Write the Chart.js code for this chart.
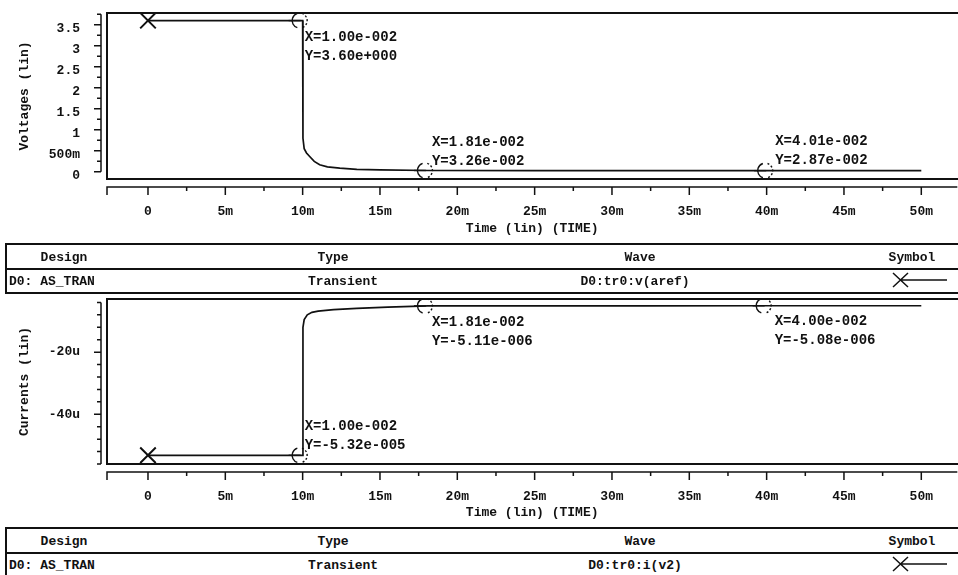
<!DOCTYPE html>
<html>
<head>
<meta charset="utf-8">
<script src="https://cdn.jsdelivr.net/npm/chart.js@4.4.1/dist/chart.umd.min.js"></script>
<style>
html, body { margin: 0; padding: 0; background: #fff; }
body { width: 958px; height: 575px; position: relative; overflow: hidden;
       font: bold 13px "Liberation Mono", "DejaVu Sans Mono", monospace; color: #111; }
canvas { position: absolute; left: 0; }
.legend { position: absolute; left: 5px; width: 980px; height: 51px; box-sizing: border-box;
          border: 2px solid #111; border-right: none; }
.legend .hdr { position: absolute; left: 0; right: 0; top: 0; height: 23px; border-bottom: 2px solid #111; }
.legend span { position: absolute; white-space: pre; line-height: 16px; }
.legend .c { transform: translateX(-50%); }
.legend svg { position: absolute; }
</style>
</head>
<body>
<canvas id="voltChart" width="958" height="240" style="top:0"></canvas>
<canvas id="currChart" width="958" height="235" style="top:290px"></canvas>

<script>
// transient run, time in seconds
const timeV = [0, 0.01, 0.01002, 0.0101, 0.01025, 0.01047, 0.01075, 0.0111, 0.0116, 0.0124, 0.0135, 0.015, 0.0181, 0.025, 0.032, 0.0401, 0.05];
const vAref = [3.6, 3.6, 0.8, 0.55, 0.45, 0.36, 0.25, 0.17, 0.12, 0.09, 0.06, 0.045, 0.0326, 0.031, 0.030, 0.0287, 0.028];

const timeI = [0, 0.01, 0.01002, 0.0101, 0.0103, 0.0106, 0.011, 0.012, 0.0135, 0.0155, 0.0181, 0.025, 0.032, 0.04, 0.05];
const iV2 = [-53.2e-6, -53.2e-6, -12e-6, -9.5e-6, -8e-6, -7.2e-6, -6.8e-6, -6.3e-6, -5.9e-6, -5.5e-6, -5.11e-6, -5.1e-6, -5.09e-6, -5.08e-6, -5.07e-6];

// cursor readouts
const vCursorX = [0.01, 0.0181, 0.0401];
const vCursorY = [3.6, 0.0326, 0.0287];
const iCursorX = [0.01, 0.0181, 0.04];
const iCursorY = [-5.32e-5, -5.11e-6, -5.08e-6];

// axis ticks
const xTickValues = [0, 0.005, 0.01, 0.015, 0.02, 0.025, 0.03, 0.035, 0.04, 0.045, 0.05];
const xTickLabels = ['0', '5m', '10m', '15m', '20m', '25m', '30m', '35m', '40m', '45m', '50m'];
const vTickValues = [0, 0.5, 1, 1.5, 2, 2.5, 3, 3.5];
const vTickLabels = ['0', '500m', '1', '1.5', '2', '2.5', '3', '3.5'];
const iTickValues = [-40e-6, -20e-6];
const iTickLabels = ['-40u', '-20u'];

// legend table
const legendHeaders = ['Design', 'Type', 'Wave', 'Symbol'];
const designName = 'D0: AS_TRAN';
const analysisType = 'Transient';
const waveNames = ['D0:tr0:v(aref)', 'D0:tr0:i(v2)'];

const FONT = '"Liberation Mono", "DejaVu Sans Mono", monospace';
Chart.defaults.font.family = FONT;
Chart.defaults.font.size = 13;
Chart.defaults.font.weight = 'bold';
Chart.defaults.color = '#111';

function range(a, b, step) {
    let out = [];
    for (let i = 0; a + i * step <= b + step * 1e-6; i++) out.push(a + i * step);
    return out;
}

function sci(v) {
    const parts = v.toExponential(2).split('e');
    const n = parseInt(parts[1], 10);
    return parts[0] + 'e' + (n < 0 ? '-' : '+') + String(Math.abs(n)).padStart(3, '0');
}

function drawCursor(ctx, x, y) {
    ctx.save();
    ctx.strokeStyle = '#111';
    ctx.lineWidth = 1.4;
    ctx.beginPath();
    ctx.arc(x, y, 7.5, Math.PI * 0.6, Math.PI * 1.4);
    ctx.stroke();
    ctx.setLineDash([2, 2]);
    ctx.beginPath();
    ctx.arc(x, y, 7.5, -Math.PI * 0.4, Math.PI * 0.4);
    ctx.stroke();
    ctx.setLineDash([]);
    ctx.beginPath();
    ctx.moveTo(x - 11, y);
    ctx.lineTo(x + 1, y);
    ctx.stroke();
    ctx.restore();
}

// frame, tick strips and cursor labels
const framePlugin = {
    id: 'frame',
    afterDatasetsDraw(chart, args, opts) {
        const { ctx, chartArea: a, scales: { x, y } } = chart;
        ctx.save();
        ctx.strokeStyle = '#111';
        ctx.lineWidth = 2;
        ctx.strokeRect(a.left, a.top, a.right - a.left + 10, a.bottom - a.top);

        // x tick strip
        ctx.lineWidth = 1.5;
        const sy = a.bottom + 8;
        ctx.beginPath();
        ctx.moveTo(a.left, sy + 8);
        ctx.lineTo(a.left, sy);
        ctx.lineTo(a.right, sy);
        range(0, 0.05, 0.0025).forEach((v, i) => {
            const px = x.getPixelForValue(v);
            ctx.moveTo(px, sy);
            ctx.lineTo(px, sy + (i % 2 ? 4 : 8));
        });
        ctx.stroke();

        // y tick strip
        const sx = a.left - 6;
        const minor = opts.yMinor;
        ctx.beginPath();
        ctx.moveTo(sx, y.getPixelForValue(minor[0]));
        ctx.lineTo(sx, y.getPixelForValue(minor[minor.length - 1]));
        minor.forEach((v, i) => {
            const py = y.getPixelForValue(v);
            const len = (i % opts.yMajorEvery === opts.yMajorPhase) ? 7 : 4;
            ctx.moveTo(sx, py);
            ctx.lineTo(sx - len, py);
        });
        ctx.stroke();

        // cursors
        ctx.font = 'bold 14px ' + FONT;
        ctx.fillStyle = '#111';
        ctx.textAlign = 'left';
        ctx.textBaseline = 'middle';
        opts.cursorX.forEach((cx, i) => {
            const px = x.getPixelForValue(cx);
            const py = y.getPixelForValue(opts.cursorY[i]);
            drawCursor(ctx, px - 3, py);
            const [dx, dy] = opts.place[i];
            ctx.fillText('X=' + sci(cx), px + dx, py + dy);
            ctx.fillText('Y=' + sci(opts.cursorY[i]), px + dx, py + dy + 19);
        });
        ctx.restore();
    }
};

function makeChart(id, cfg) {
    const points = cfg.t.map((t, i) => ({ x: t, y: cfg.v[i] }));
    return new Chart(document.getElementById(id), {
        type: 'line',
        data: {
            datasets: [{
                data: points,
                borderColor: '#111',
                borderWidth: 1.7,
                tension: 0,
                pointStyle: 'crossRot',
                pointRadius: c => c.dataIndex === 0 ? 11 : 0,
                pointBorderWidth: 2,
                pointBorderColor: '#111',
                pointHoverRadius: 0
            }]
        },
        options: {
            responsive: false,
            animation: false,
            events: [],
            layout: { autoPadding: false, padding: { top: cfg.padTop, right: 0, left: 0, bottom: 0 } },
            plugins: {
                legend: { display: false },
                tooltip: { enabled: false },
                frame: cfg.frame
            },
            scales: {
                x: {
                    type: 'linear',
                    min: -0.00265,
                    max: 0.05233,
                    grid: { display: false, drawTicks: false },
                    border: { display: false },
                    afterBuildTicks: s => { s.ticks = xTickValues.map(v => ({ value: v })); },
                    afterFit: s => { s.height = cfg.xAxisH; },
                    ticks: {
                        padding: 25,
                        autoSkip: false,
                        maxRotation: 0,
                        callback: (v, i) => xTickLabels[i]
                    },
                    title: { display: true, text: 'Time (lin) (TIME)', padding: { top: 0, bottom: cfg.titlePad } }
                },
                y: {
                    type: 'linear',
                    min: cfg.yMin,
                    max: cfg.yMax,
                    grid: { display: false, drawTicks: false },
                    border: { display: false },
                    afterBuildTicks: s => { s.ticks = cfg.yTicks.map(v => ({ value: v })); },
                    afterFit: s => {
                        s.width = 107;
                        s.paddingTop = 0;
                        s.paddingBottom = 0;
                    },
                    ticks: {
                        padding: 27,
                        autoSkip: false,
                        labelOffset: cfg.labelOffset,
                        callback: (v, i) => cfg.yLabels[i]
                    },
                    title: { display: true, text: cfg.yTitle, padding: { top: 17, bottom: 0 } }
                }
            }
        },
        plugins: [framePlugin]
    });
}

makeChart('voltChart', {
    t: timeV, v: vAref,
    padTop: 13, xAxisH: 61, titlePad: 3,
    yMin: -0.17, yMax: 3.78,
    yTicks: vTickValues, yLabels: vTickLabels, labelOffset: 4,
    yTitle: 'Voltages (lin)',
    frame: {
        yMinor: range(0, 3.75, 0.25), yMajorEvery: 2, yMajorPhase: 0,
        cursorX: vCursorX, cursorY: vCursorY,
        place: [[2, 17], [4, -28], [7, -29]]
    }
});

makeChart('currChart', {
    t: timeI, v: iV2,
    padTop: 9, xAxisH: 61, titlePad: 4,
    yMin: -56e-6, yMax: -2.9e-6,
    yTicks: iTickValues, yLabels: iTickLabels, labelOffset: 0,
    yTitle: 'Currents (lin)',
    frame: {
        yMinor: range(-56e-6, -4e-6, 4e-6), yMajorEvery: 5, yMajorPhase: 4,
        cursorX: iCursorX, cursorY: iCursorY,
        place: [[2, -29], [4, 17], [8, 16]]
    }
});

// legend tables under each plot
function buildLegend(top, wave) {
    const box = document.createElement('div');
    box.className = 'legend';
    box.style.top = top + 'px';
    const hdr = document.createElement('div');
    hdr.className = 'hdr';
    box.appendChild(hdr);
    const hdrPos = [57, 326, 633, 905];
    legendHeaders.forEach((h, i) => {
        const s = document.createElement('span');
        s.className = 'c';
        s.textContent = h;
        s.style.left = hdrPos[i] + 'px';
        s.style.top = '5px';
        box.appendChild(s);
    });
    const row = [[designName, 2, false], [analysisType, 336, true], [wave, 628, true]];
    row.forEach(r => {
        const s = document.createElement('span');
        if (r[2]) s.className = 'c';
        s.textContent = r[0];
        s.style.left = r[1] + 'px';
        s.style.top = '29px';
        box.appendChild(s);
    });
    const svgNS = 'http://www.w3.org/2000/svg';
    const svg = document.createElementNS(svgNS, 'svg');
    svg.setAttribute('width', '60');
    svg.setAttribute('height', '18');
    svg.style.left = '884px';
    svg.style.top = '26px';
    svg.innerHTML = '<path d="M2 2 L17 16 M2 16 L17 2 M10 9 L56 9" stroke="#111" stroke-width="1.5" fill="none"/>';
    box.appendChild(svg);
    document.body.appendChild(box);
}
buildLegend(243, waveNames[0]);
buildLegend(527, waveNames[1]);
</script>
</body>
</html>
